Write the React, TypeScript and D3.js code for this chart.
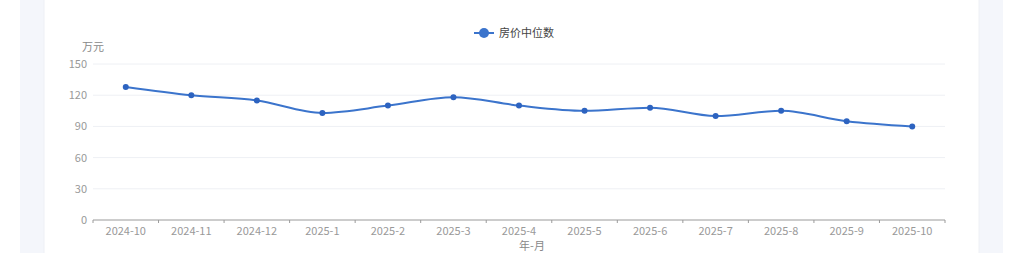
import React from "react";
import * as d3 from "d3";

const categories = ["2024-10","2024-11","2024-12","2025-1","2025-2","2025-3","2025-4","2025-5","2025-6","2025-7","2025-8","2025-9","2025-10"];
const values = [128,120,115,103,110,118,110,105,108,100,105,95,90];
const yTicks = [0,30,60,90,120,150];
const seriesName = "房价中位数";
const yName = "万元";
const xName = "年-月";

const W = 1024, H = 253;
const left = 93, right = 945, top = 64, bottom = 220;
const lineColor = "#3b74cc";
const font = "'Noto Sans CJK SC', 'Noto Sans', sans-serif";

export default function App() {
  const x = d3.scaleBand().domain(categories).range([left, right]);
  const y = d3.scaleLinear().domain([0, 150]).range([bottom, top]);
  const line = d3.line<number>()
    .x((_, i) => (x(categories[i]) as number) + x.bandwidth() / 2)
    .y(d => y(d))
    .curve(d3.curveMonotoneX);
  const boundaries = categories.map(c => x(c) as number).concat([right]);
  return (
    <svg width={W} height={H} style={{ position: "fixed", left: 0, top: 0, display: "block" }} fontFamily={font}>
      <rect x={0} y={0} width={W} height={H} fill="#ffffff" />
      <rect x={20} y={0} width={983} height={H} fill="#f4f6fb" />
      <rect x={44} y={-10} width={935} height={H + 20} rx={8} fill="#ffffff" stroke="#eef0f5" />
      {/* legend */}
      <g>
        <line x1={474} x2={494} y1={33} y2={33} stroke={lineColor} strokeWidth={2} />
        <circle cx={484} cy={33} r={5} fill={lineColor} />
        <text x={499} y={37} fontSize={11} fill="#444">{seriesName}</text>
      </g>
      {/* y axis name */}
      <text x={93} y={51} fontSize={11} fill="#888" textAnchor="middle">{yName}</text>
      {/* grid */}
      {yTicks.map(t => (
        <g key={t}>
          {t !== 0 && <line x1={left} x2={right} y1={y(t)} y2={y(t)} stroke="#eef0f4" strokeWidth={1} />}
          <text x={left - 6} y={y(t) + 4} fontSize={11} fill="#999" textAnchor="end">{t}</text>
        </g>
      ))}
      {/* x axis */}
      <line x1={left} x2={right} y1={bottom} y2={bottom} stroke="#9a9a9a" strokeWidth={1} />
      {boundaries.map((b, i) => (
        <line key={i} x1={b} x2={b} y1={bottom} y2={bottom + 3} stroke="#9a9a9a" strokeWidth={1} />
      ))}
      {categories.map(c => (
        <text key={c} x={(x(c) as number) + x.bandwidth() / 2} y={235} fontSize={11} fill="#999" textAnchor="middle">{c}</text>
      ))}
      <text x={532} y={250} fontSize={11} fill="#888" textAnchor="middle">{xName}</text>
      {/* series */}
      <path d={line(values) || ""} fill="none" stroke={lineColor} strokeWidth={2} />
      {values.map((v, i) => (
        <circle key={i} cx={(x(categories[i]) as number) + x.bandwidth() / 2} cy={y(v)} r={3} fill="#2d63c0" />
      ))}
    </svg>
  );
}
